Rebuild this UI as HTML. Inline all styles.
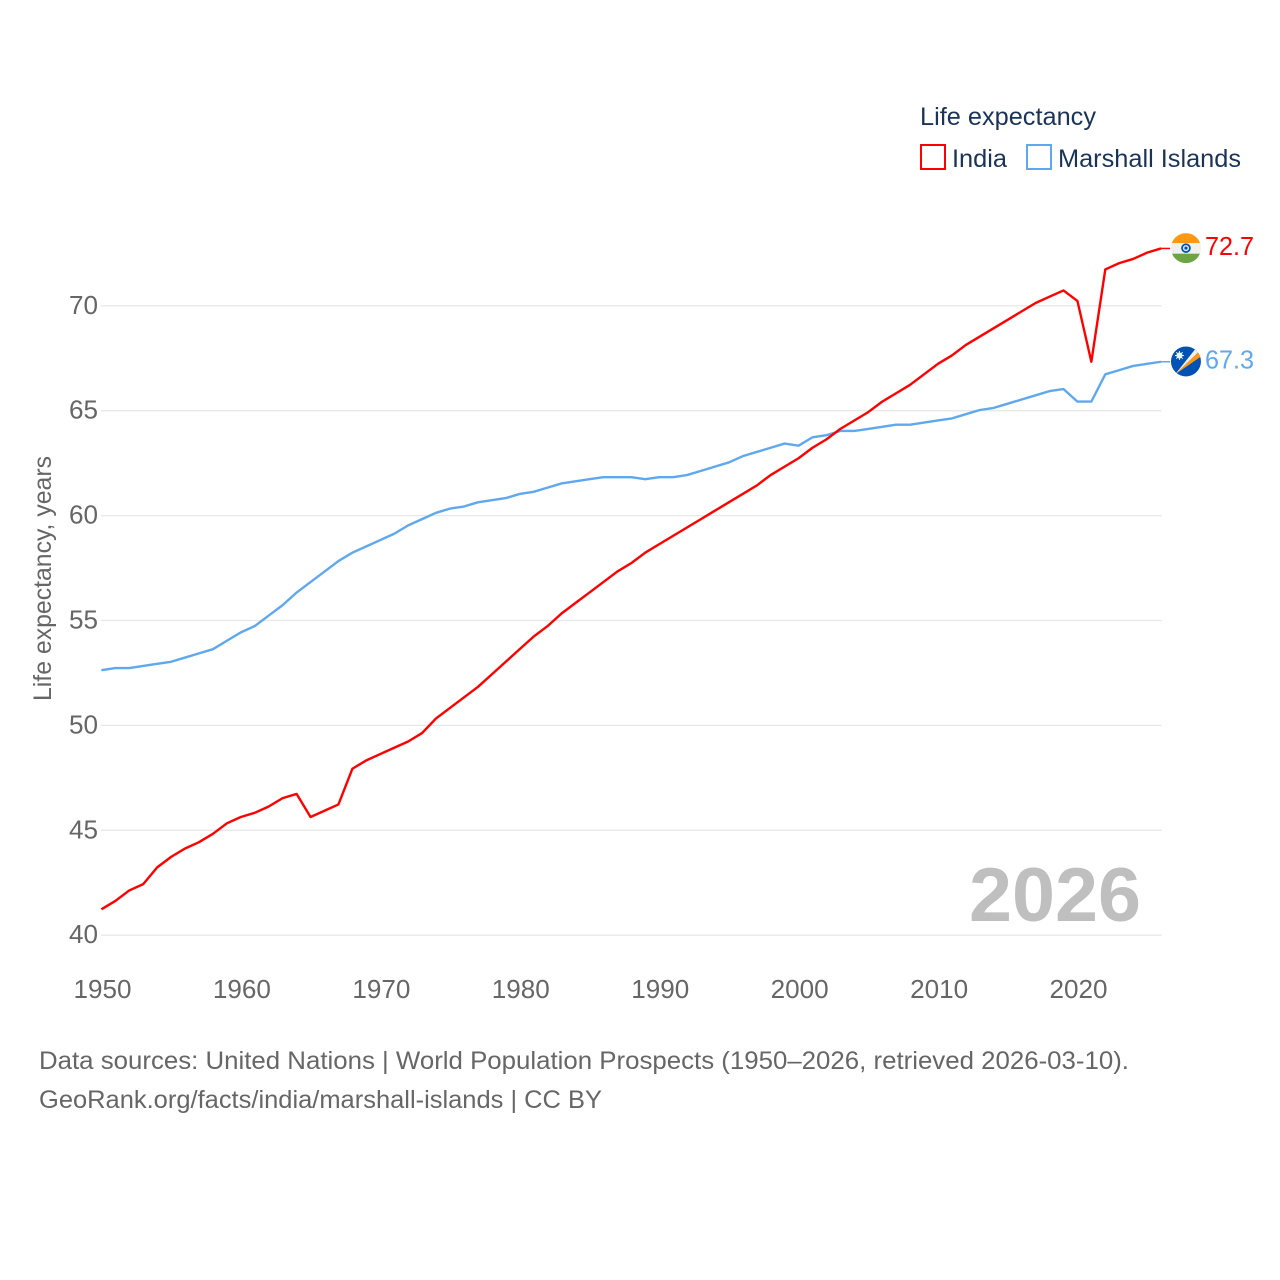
<!DOCTYPE html>
<html lang="en">
<head>
<meta charset="utf-8">
<title>Life expectancy: India vs Marshall Islands</title>
<style>
html,body{margin:0;padding:0;background:#fff;}
svg{display:block;}
text{font-family:"Liberation Sans",sans-serif;}
</style>
</head>
<body>
<svg id="chart" xmlns="http://www.w3.org/2000/svg" width="1280" height="1280" viewBox="0 0 1280 1280">
  <g id="grid"></g>
  <g id="yticks"></g>
  <g id="xticks"></g>
  <text transform="translate(51,701) rotate(-90)" font-size="25" fill="#666" textLength="245" lengthAdjust="spacingAndGlyphs">Life expectancy, years</text>
  <text x="969" y="921" font-size="76" font-weight="700" fill="#bfbfbf" textLength="172" lengthAdjust="spacingAndGlyphs">2026</text>
  <g id="series" transform="translate(-0.6,-0.7)"></g>

  <g id="flag-india">
    <clipPath id="clip-in"><circle cx="15" cy="15" r="15"/></clipPath>
    <g clip-path="url(#clip-in)">
      <rect width="30" height="10" fill="#ff9811"/>
      <rect y="10" width="30" height="10.5" fill="#f0f0f0"/>
      <rect y="20.5" width="30" height="10" fill="#6da544"/>
      <circle cx="15" cy="15" r="4.8" fill="#0052b4"/>
      <circle cx="15" cy="15" r="3" fill="#f0f0f0"/>
      <circle cx="15" cy="15" r="1.6" fill="#0052b4"/>
    </g>
  </g>
  <g id="flag-marshall">
    <clipPath id="clip-mh"><circle cx="15" cy="15" r="15"/></clipPath>
    <g clip-path="url(#clip-mh)">
      <rect width="30" height="30" fill="#0052b4"/>
      <polygon points="4,28 28,5 30,10" fill="#ff9811"/>
      <polygon points="4,28 24,3 28,5" fill="#f0f0f0"/>
      <circle cx="8.5" cy="9" r="3" fill="#f0f0f0"/>
      <path d="M8.5 4.5V13.5M4 9H13M5.3 5.8L11.7 12.2M11.7 5.8L5.3 12.2" stroke="#f0f0f0" stroke-width="1"/>
    </g>
  </g>
  <text id="label-india" x="1205" font-size="26" fill="#ff0000" textLength="49" lengthAdjust="spacingAndGlyphs"></text>
  <text id="label-marshall" x="1205" font-size="26" fill="#5fa8ee" textLength="49" lengthAdjust="spacingAndGlyphs"></text>

  <g>
    <text x="920" y="125" font-size="25" fill="#1a3357" textLength="176" lengthAdjust="spacingAndGlyphs">Life expectancy</text>
    <g>
      <rect x="921" y="145" width="24" height="24" fill="none" stroke="#ff0000" stroke-width="2"/>
      <text x="952" y="167" font-size="25" fill="#1a3357" textLength="55" lengthAdjust="spacingAndGlyphs">India</text>
    </g>
    <g>
      <rect x="1027" y="145" width="24" height="24" fill="none" stroke="#5fa8ee" stroke-width="2"/>
      <text x="1058" y="167" font-size="25" fill="#1a3357" textLength="183" lengthAdjust="spacingAndGlyphs">Marshall Islands</text>
    </g>
  </g>

  <text x="39" y="1069" font-size="25" fill="#666" textLength="1090" lengthAdjust="spacingAndGlyphs">Data sources: United Nations | World Population Prospects (1950–2026, retrieved 2026-03-10).</text>
  <text x="39" y="1108" font-size="25" fill="#666" textLength="563" lengthAdjust="spacingAndGlyphs">GeoRank.org/facts/india/marshall-islands | CC BY</text>
</svg>
<script>
var years = [1950,1951,1952,1953,1954,1955,1956,1957,1958,1959,1960,1961,1962,1963,1964,1965,1966,1967,1968,1969,1970,1971,1972,1973,1974,1975,1976,1977,1978,1979,1980,1981,1982,1983,1984,1985,1986,1987,1988,1989,1990,1991,1992,1993,1994,1995,1996,1997,1998,1999,2000,2001,2002,2003,2004,2005,2006,2007,2008,2009,2010,2011,2012,2013,2014,2015,2016,2017,2018,2019,2020,2021,2022,2023,2024,2025,2026];
var indiaValues = [41.2,41.6,42.1,42.4,43.2,43.7,44.1,44.4,44.8,45.3,45.6,45.8,46.1,46.5,46.7,45.6,45.9,46.2,47.9,48.3,48.6,48.9,49.2,49.6,50.3,50.8,51.3,51.8,52.4,53.0,53.6,54.2,54.7,55.3,55.8,56.3,56.8,57.3,57.7,58.2,58.6,59.0,59.4,59.8,60.2,60.6,61.0,61.4,61.9,62.3,62.7,63.2,63.6,64.1,64.5,64.9,65.4,65.8,66.2,66.7,67.2,67.6,68.1,68.5,68.9,69.3,69.7,70.1,70.4,70.7,70.2,67.3,71.7,72.0,72.2,72.5,72.7];
var marshallValues = [52.6,52.7,52.7,52.8,52.9,53.0,53.2,53.4,53.6,54.0,54.4,54.7,55.2,55.7,56.3,56.8,57.3,57.8,58.2,58.5,58.8,59.1,59.5,59.8,60.1,60.3,60.4,60.6,60.7,60.8,61.0,61.1,61.3,61.5,61.6,61.7,61.8,61.8,61.8,61.7,61.8,61.8,61.9,62.1,62.3,62.5,62.8,63.0,63.2,63.4,63.3,63.7,63.8,64.0,64.0,64.1,64.2,64.3,64.3,64.4,64.5,64.6,64.8,65.0,65.1,65.3,65.5,65.7,65.9,66.0,65.4,65.4,66.7,66.9,67.1,67.2,67.3];
var yTickValues = [40,45,50,55,60,65,70];
var xTickValues = [1950,1960,1970,1980,1990,2000,2010,2020];

var SVGNS = 'http://www.w3.org/2000/svg';
function xScale(year){ return 102 + (year - 1950) * 13.943; }
function yScale(v){ return 935.2 - (v - 40) * 20.98; }
function make(tag, attrs, parent){
  var el = document.createElementNS(SVGNS, tag);
  for (var k in attrs) el.setAttribute(k, attrs[k]);
  parent.appendChild(el);
  return el;
}

var gridG = document.getElementById('grid');
var yG = document.getElementById('yticks');
yTickValues.forEach(function(v){
  var line = make('line', {x1:101, x2:1161.5, y1:yScale(v), y2:yScale(v), stroke:'#e8e8e8', 'stroke-width':1.3}, gridG);
  
  
  var t = make('text', {x:98, y:yScale(v) + 8, 'text-anchor':'end', 'font-size':26, fill:'#666', textLength:29, lengthAdjust:'spacingAndGlyphs'}, yG);
  
  
  t.textContent = v;
});

var xG = document.getElementById('xticks');
xTickValues.forEach(function(yr){
  var t = make('text', {x:xScale(yr) + 0.5, y:998, 'text-anchor':'middle', 'font-size':26, fill:'#666', textLength:58, lengthAdjust:'spacingAndGlyphs'}, xG);
  
  
  t.textContent = yr;
});

function pathFor(values){
  return values.map(function(v, i){
    return (i ? 'L' : 'M') + xScale(years[i]).toFixed(2) + ' ' + yScale(v).toFixed(2);
  }).join('');
}
var seriesG = document.getElementById('series');

var lineMarshall = make('path', {d:pathFor(marshallValues), fill:'none', stroke:'#5fa8ee', 'stroke-width':2.4, 'stroke-linejoin':'round'}, seriesG);



var lineIndia = make('path', {d:pathFor(indiaValues), fill:'none', stroke:'#ff0000', 'stroke-width':2.4, 'stroke-linejoin':'round'}, seriesG);



function placeEnd(values, color, flagId, labelId, leaderName){
  var last = values[values.length - 1];
  var px = xScale(years[years.length - 1]);
  var py = yScale(last);
  var leader = make('line', {x1:px, x2:px + 9, y1:py, y2:py, stroke:color, 'stroke-width':1.5}, seriesG);
  
  
  document.getElementById(flagId).setAttribute('transform', 'translate(' + (px + 9.3) + ',' + (py - 16) + ')');
  var label = document.getElementById(labelId);
  label.setAttribute('y', py + 6);
  label.textContent = last.toFixed(1);
}
placeEnd(indiaValues, '#ff0000', 'flag-india', 'label-india', 'india-leader-line');
placeEnd(marshallValues, '#5fa8ee', 'flag-marshall', 'label-marshall', 'marshall-islands-leader-line');
</script>
</body>
</html>
